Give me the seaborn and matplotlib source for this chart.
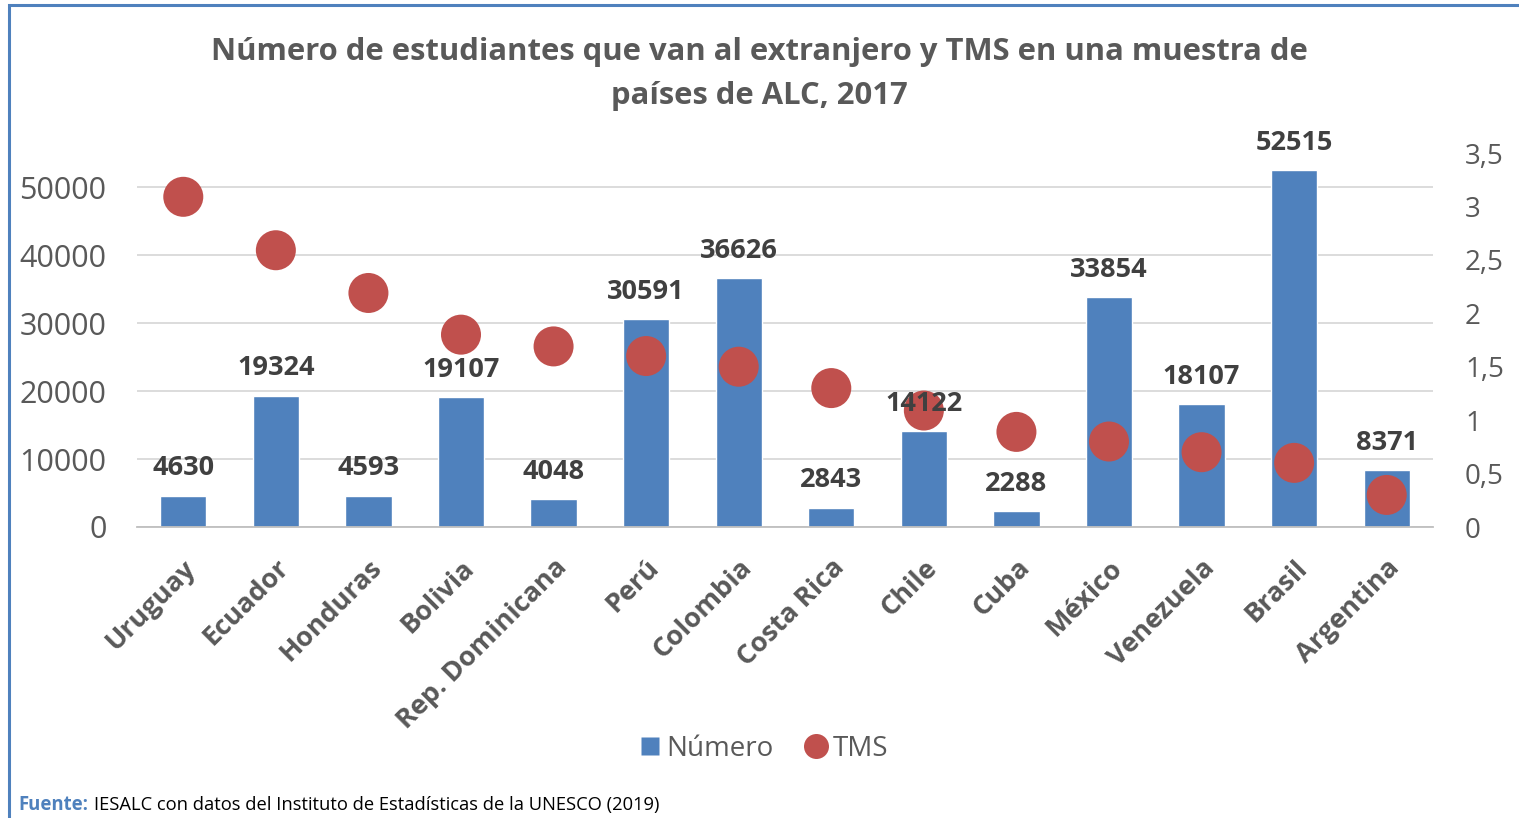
import matplotlib
matplotlib.use("Agg")
import matplotlib.pyplot as plt
import seaborn as sns
import pandas as pd
import numpy as np
from matplotlib.patches import Rectangle
from matplotlib.lines import Line2D

paises = ["Uruguay", "Ecuador", "Honduras", "Bolivia", "Rep. Dominicana", "Perú",
          "Colombia", "Costa Rica", "Chile", "Cuba", "México", "Venezuela", "Brasil", "Argentina"]
numero = [4630, 19324, 4593, 19107, 4048, 30591, 36626, 2843, 14122, 2288, 33854, 18107, 52515, 8371]
tms = [3.09, 2.59, 2.19, 1.80, 1.69, 1.60, 1.50, 1.30, 1.09, 0.89, 0.80, 0.70, 0.60, 0.30]
left_ticks = [0, 10000, 20000, 30000, 40000, 50000]
right_ticks = [0, 0.5, 1, 1.5, 2, 2.5, 3, 3.5]
right_labels = ["0", "0,5", "1", "1,5", "2", "2,5", "3", "3,5"]

df = pd.DataFrame({"pais": paises, "numero": numero, "tms": tms})

sns.set_theme(style="white")
plt.rcParams["font.family"] = ["Open Sans", "DejaVu Sans"]

BLUE = "#4F81BD"
RED = "#C0504D"
GREY_TXT = "#595959"
DARK_TXT = "#404040"

fig = plt.figure(figsize=(15.19, 8.18), dpi=100)
ax = fig.add_axes([137/1519, 1-527/818, (1433-137)/1519, (527-153)/818])

sns.barplot(data=df, x="pais", y="numero", color=BLUE, width=0.5, saturation=1, ax=ax)
ax.set_ylim(0, 55000)
ax.set_xlim(-0.5, len(paises)-0.5)
ax.set_yticks(left_ticks)
ax.set_yticklabels([str(v) for v in left_ticks], fontsize=22, color=GREY_TXT)
ax.yaxis.grid(True, color="#D9D9D9", linewidth=1.3)
ax.set_axisbelow(True)
ax.set_xlabel("")
ax.set_ylabel("")
for s in ["top", "right", "left"]:
    ax.spines[s].set_visible(False)
ax.spines["bottom"].set_color("#BFBFBF")
ax.spines["bottom"].set_linewidth(1.3)
ax.tick_params(axis="y", length=0, pad=22)
ax.set_xticks(range(len(paises)))
ax.set_xticklabels(paises, rotation=45, ha="right", rotation_mode="anchor",
                   fontsize=19.5, fontweight="bold", color=GREY_TXT)
ax.tick_params(axis="x", which="major", length=0, pad=20)
ax.set_xticks(np.arange(-0.5, len(paises), 1), minor=True)
ax.tick_params(axis="x", which="minor", length=10, color="#BFBFBF", width=1.3, direction="out")

ax2 = ax.twinx()
sns.scatterplot(x=np.arange(len(paises)), y=tms, color=RED, s=830,
                edgecolor="none", ax=ax2, zorder=5, legend=False)
ax2.set_ylim(0, 3.5)
ax2.set_xlim(-0.5, len(paises)-0.5)
ax2.set_yticks(right_ticks)
ax2.set_yticklabels(right_labels, fontsize=20, color=GREY_TXT)
ax2.tick_params(axis="y", length=0, pad=23)
ax2.grid(False)
for s in ["top", "right", "left", "bottom"]:
    ax2.spines[s].set_visible(False)
ax2.set_ylabel("")

# value labels drawn above the dots, positioned with the bar axis' data scale
for i, v in enumerate(numero):
    ax2.text(i, v + 2100, str(v), ha="center", va="bottom", fontsize=19.5,
             fontweight="bold", color=DARK_TXT, transform=ax.transData, zorder=10)

fig.text(0.5, 1-52/818, "Número de estudiantes que van al extranjero y TMS en una muestra de",
         ha="center", va="center", fontsize=22.3, fontweight="bold", color=GREY_TXT)
fig.text(0.5, 1-96/818, "países de ALC, 2017",
         ha="center", va="center", fontsize=22.3, fontweight="bold", color=GREY_TXT)

handles = [Line2D([0], [0], marker="s", color="none", markerfacecolor=BLUE, markeredgecolor="none", markersize=13),
           Line2D([0], [0], marker="o", color="none", markerfacecolor=RED, markeredgecolor="none", markersize=18)]
fig.legend(handles, ["Número", "TMS"], loc="center", bbox_to_anchor=(762/1519, 1-749/818),
           ncol=2, frameon=False, fontsize=20, labelcolor=GREY_TXT, handletextpad=0.1,
           columnspacing=1.0, handlelength=1.0)

fig.text(18/1519, 1-805/818, "Fuente:", ha="left", va="center", fontsize=13.4,
         fontweight="bold", color=BLUE)
fig.text(94/1519, 1-805/818, "IESALC con datos del Instituto de Estadísticas de la UNESCO (2019)",
         ha="left", va="center", fontsize=13.2, color="black")

fig.patches.append(Rectangle((9/1519, -0.1), 1.2, 1.1 - 5/818, transform=fig.transFigure,
                             fill=False, edgecolor=BLUE, linewidth=2.2))

fig.savefig("out.png", dpi=100)
